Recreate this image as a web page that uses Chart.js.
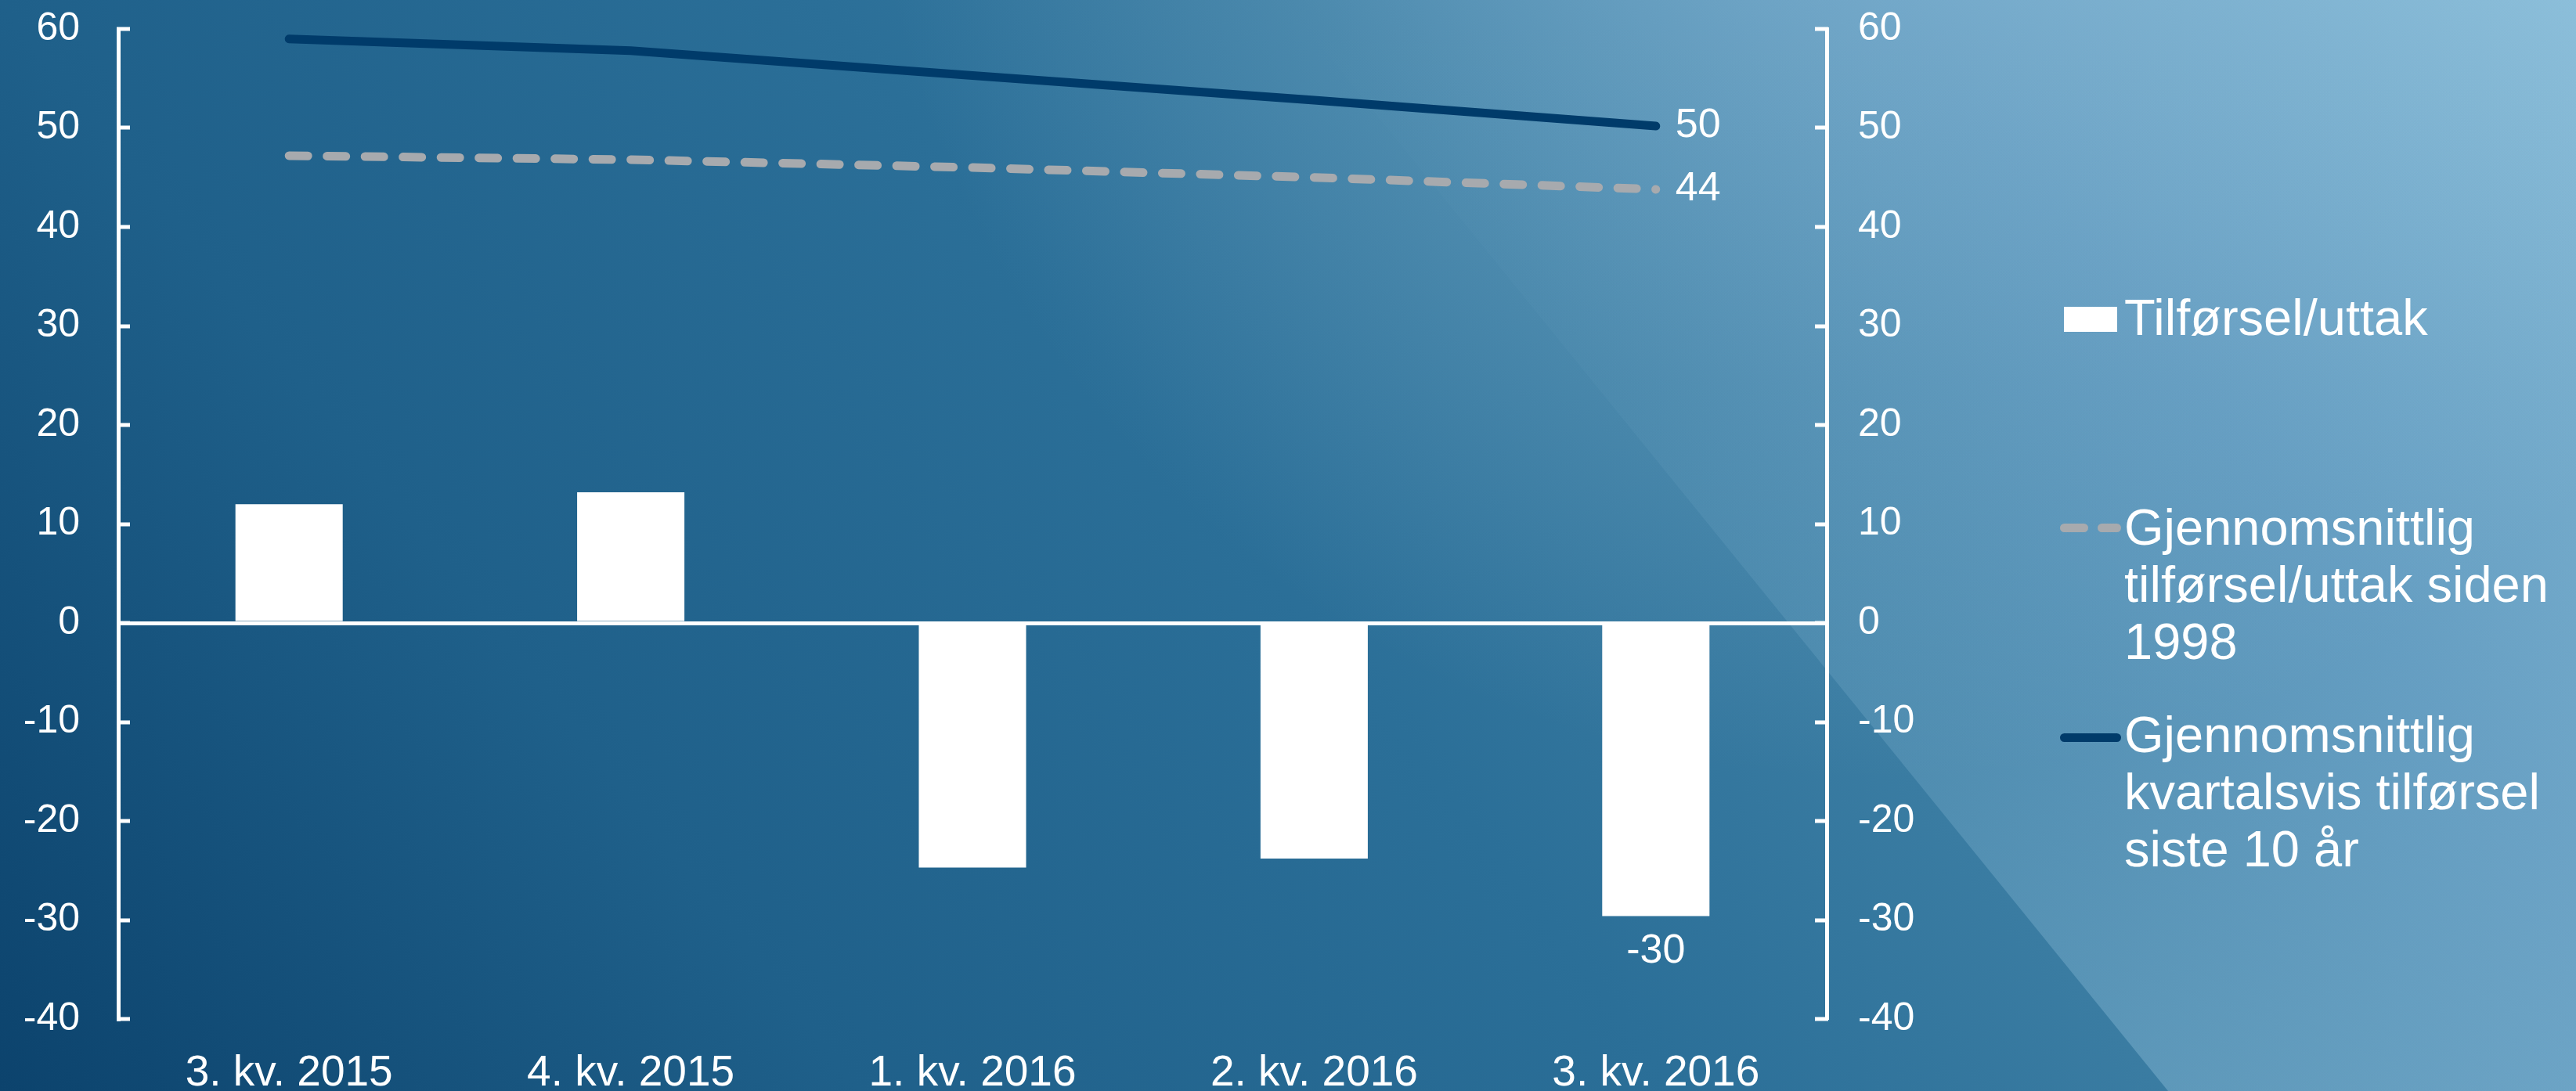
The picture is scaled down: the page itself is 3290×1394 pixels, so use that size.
<!DOCTYPE html>
<html>
<head>
<meta charset="utf-8">
<script src="https://cdn.jsdelivr.net/npm/chart.js@4.4.1/dist/chart.umd.min.js"></script>
<style>
  html, body { margin: 0; padding: 0; }
  #wrap { position: relative; width: 3290px; height: 1394px; overflow: hidden;
          font-family: "Liberation Sans", Arial, sans-serif; color: #fff; }
  #chart { position: absolute; left: 0; top: 0; }
  .legend-text { position: absolute; font-size: 65px; line-height: 73px; white-space: nowrap; }
  .swatch { position: absolute; }
</style>
</head>
<body>
<div id="wrap">
  <canvas id="chart" width="3290" height="1394"></canvas>
  <div id="legend"></div>
</div>
<script>
// data
const quarters = ["3. kv. 2015", "4. kv. 2015", "1. kv. 2016", "2. kv. 2016", "3. kv. 2016"];
const flows = [12.0, 13.2, -24.7, -23.8, -29.6];
const avgSince1998 = [47.2, 46.8, 46.0, 45.0, 43.8];
const avgLast10y = [59.0, 57.8, 55.3, 52.8, 50.2];

const yMin = -40;
const yMax = 60;
const yStep = 10;

const legendFlows = ["Tilførsel/uttak"];
const legendSince1998 = ["Gjennomsnittlig", "tilførsel/uttak siden", "1998"];
const legendLast10y = ["Gjennomsnittlig", "kvartalsvis tilførsel", "siste 10 år"];

const FONT = '"Liberation Sans", Arial, sans-serif';
const barColor = "#ffffff";
const grayColor = "#a7aaae";
const navyColor = "#003b6a";

// background: dark-to-light blue gradient plus lighter diagonal panel
const backdrop = {
  id: "backdrop",
  beforeDraw(chart) {
    const { ctx, width: w, height: h } = chart;
    ctx.save();
    const g = ctx.createLinearGradient(0, h, 2705, h - 2133);
    g.addColorStop(0, "#0c436d");
    g.addColorStop(0.25, "#1f608a");
    g.addColorStop(0.49, "#2b6f98");
    g.addColorStop(0.63, "#3a7ca2");
    g.addColorStop(0.8, "#5a95bb");
    g.addColorStop(1, "#88bcd8");
    ctx.fillStyle = g;
    ctx.fillRect(0, 0, w, h);

    const r = ctx.createRadialGradient(2400, -300, 0, 2400, -300, 1300);
    r.addColorStop(0, "rgba(170,210,232,0.4)");
    r.addColorStop(1, "rgba(170,210,232,0)");
    ctx.fillStyle = r;
    ctx.fillRect(0, 0, w, h);

    const o = ctx.createLinearGradient(0, 0, 0, h);
    o.addColorStop(0, "rgba(160,205,230,0)");
    o.addColorStop(0.35, "rgba(160,205,230,0.04)");
    o.addColorStop(1, "rgba(160,205,230,0.35)");
    ctx.fillStyle = o;
    ctx.beginPath();
    ctx.moveTo(1639, 0);
    ctx.lineTo(w, 0);
    ctx.lineTo(w, h);
    ctx.lineTo(2769, h);
    ctx.closePath();
    ctx.fill();
    ctx.restore();
  }
};

// short tick marks pointing into the plot on both value axes
const innerTicks = {
  id: "innerTicks",
  afterDatasetsDraw(chart) {
    const { ctx } = chart;
    ctx.save();
    ctx.strokeStyle = "#ffffff";
    ctx.lineWidth = 5;
    ["y", "y2"].forEach((id) => {
      const s = chart.scales[id];
      const x0 = id === "y" ? s.right : s.left;
      const dir = id === "y" ? 1 : -1;
      s.ticks.forEach((t) => {
        const py = Math.round(s.getPixelForValue(t.value));
        ctx.beginPath();
        ctx.moveTo(x0 - dir * 2, py);
        ctx.lineTo(x0 + dir * 15, py);
        ctx.stroke();
      });
    });
    ctx.restore();
  }
};

// value labels on the last quarter
const endLabels = {
  id: "endLabels",
  afterDatasetsDraw(chart) {
    const { ctx } = chart;
    const last = quarters.length - 1;
    ctx.save();
    ctx.fillStyle = "#ffffff";
    ctx.font = "52px " + FONT;
    ctx.textBaseline = "middle";
    [1, 2].forEach((di) => {
      const p = chart.getDatasetMeta(di).data[last];
      ctx.textAlign = "left";
      ctx.fillText(Math.round(chart.data.datasets[di].data[last]), p.x + 25, p.y);
    });
    const b = chart.getDatasetMeta(0).data[last];
    ctx.textAlign = "center";
    ctx.fillText(Math.round(flows[last]), b.x, b.y + 45);
    ctx.restore();
  }
};

const ctx = document.getElementById("chart").getContext("2d");

new Chart(ctx, {
  type: "bar",
  data: {
    labels: quarters,
    datasets: [
      {
        label: legendFlows.join(" "),
        data: flows,
        backgroundColor: barColor,
        borderWidth: 0,
        categoryPercentage: 1,
        barPercentage: 0.314,
        order: 3,
      },
      {
        type: "line",
        label: legendSince1998.join(" "),
        data: avgSince1998,
        borderColor: grayColor,
        borderWidth: 11,
        borderDash: [24, 24.5],
        borderCapStyle: "round",
        pointRadius: 0,
        tension: 0,
        order: 2,
      },
      {
        type: "line",
        label: legendLast10y.join(" "),
        data: avgLast10y,
        borderColor: navyColor,
        borderWidth: 11,
        borderCapStyle: "round",
        borderJoinStyle: "round",
        pointRadius: 0,
        tension: 0,
        order: 1,
      },
    ],
  },
  options: {
    responsive: false,
    animation: false,
    devicePixelRatio: 1,
    layout: { padding: { top: 37, bottom: 0, left: 0, right: 0 } },
    plugins: { legend: { display: false }, tooltip: { enabled: false } },
    scales: {
      x: {
        grid: { display: false },
        border: { display: false },
        ticks: { color: "#fff", font: { family: FONT, size: 55 }, padding: 29, maxRotation: 0 },
        afterFit(s) { s.height = 92; s.paddingLeft = 0; s.paddingRight = 0; },
      },
      y: {
        position: "left",
        min: yMin,
        max: yMax,
        ticks: { stepSize: yStep, color: "#fff", font: { family: FONT, size: 50 }, padding: 49 },
        grid: {
          drawTicks: false,
          lineWidth: 5,
          color: (c) => (c.tick && c.tick.value === 0 ? "#ffffff" : "rgba(0,0,0,0)"),
        },
        border: { display: true, color: "#ffffff", width: 5 },
        afterFit(s) { s.width = 151; s.paddingTop = 0; s.paddingBottom = 0; },
      },
      y2: {
        display: true,
        position: "right",
        min: yMin,
        max: yMax,
        ticks: { stepSize: yStep, color: "#fff", font: { family: FONT, size: 50 }, padding: 40 },
        grid: { display: false, drawTicks: false },
        border: { display: true, color: "#ffffff", width: 5 },
        afterFit(s) { s.width = 3290 - 2333; s.paddingTop = 0; s.paddingBottom = 0; },
      },
    },
  },
  plugins: [backdrop, innerTicks, endLabels],
});

// legend to the right of the plot
const legendEntries = [
  { lines: legendFlows, kind: "box", color: barColor, top: 369, symY: 408 },
  { lines: legendSince1998, kind: "dash", color: grayColor, top: 637, symY: 674 },
  { lines: legendLast10y, kind: "line", color: navyColor, top: 902, symY: 942 },
];
const legendEl = document.getElementById("legend");
legendEntries.forEach((e) => {
  const t = document.createElement("div");
  t.className = "legend-text";
  t.style.left = "2713px";
  t.style.top = e.top + "px";
  t.innerHTML = e.lines.join("<br>");
  legendEl.appendChild(t);

  const pieces =
    e.kind === "box" ? [[2636, 68, 32, 0]] :
    e.kind === "dash" ? [[2631, 36, 11, 5.5], [2679, 30, 11, 5.5]] :
    [[2631, 78, 11, 5.5]];
  pieces.forEach(([x, w, h, rad]) => {
    const s = document.createElement("div");
    s.className = "swatch";
    s.style.left = x + "px";
    s.style.top = e.symY - h / 2 + "px";
    s.style.width = w + "px";
    s.style.height = h + "px";
    s.style.borderRadius = rad + "px";
    s.style.background = e.color;
    legendEl.appendChild(s);
  });
});
</script>
</body>
</html>
